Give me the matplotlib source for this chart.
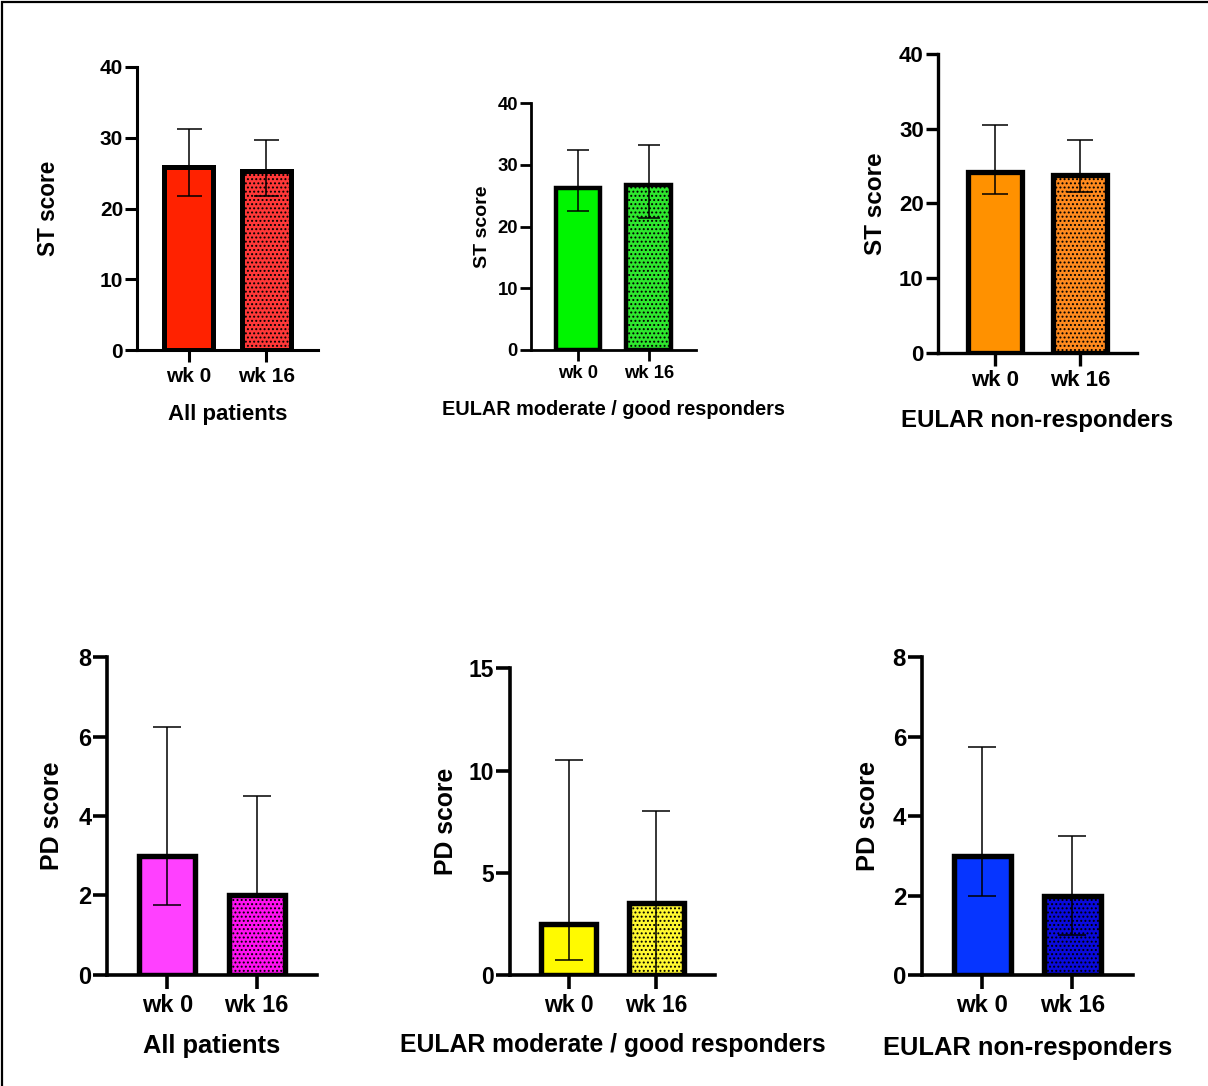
import matplotlib
matplotlib.use("Agg")
import matplotlib.pyplot as plt
from matplotlib.patches import Rectangle

plt.rcParams['font.family'] = ['Liberation Sans', 'DejaVu Sans']
plt.rcParams['font.weight'] = 'bold'
plt.rcParams['hatch.linewidth'] = 0.9

timepoints = ["wk 0", "wk 16"]

# ST score: median with lower / upper quartile
st_all_mid = [25.8, 25.3]
st_all_lo = [21.8, 21.8]
st_all_hi = [31.2, 29.7]

st_resp_mid = [26.3, 26.7]
st_resp_lo = [22.5, 21.4]
st_resp_hi = [32.5, 33.3]

st_nonresp_mid = [24.2, 23.8]
st_nonresp_lo = [21.2, 21.5]
st_nonresp_hi = [30.5, 28.5]

# PD score: median with lower / upper quartile
pd_all_mid = [3.0, 2.0]
pd_all_lo = [1.75, 2.0]
pd_all_hi = [6.25, 4.5]

pd_resp_mid = [2.5, 3.5]
pd_resp_lo = [0.75, 0.0]
pd_resp_hi = [10.5, 8.0]

pd_nonresp_mid = [3.0, 2.0]
pd_nonresp_lo = [2.0, 1.0]
pd_nonresp_hi = [5.75, 3.5]

group_titles = ["All patients", "EULAR moderate / good responders", "EULAR non-responders"]
st_ticks = [0, 10, 20, 30, 40]
pd_ticks_all = [0, 2, 4, 6, 8]
pd_ticks_resp = [0, 5, 10, 15]

W, H = 1208, 1086
fig = plt.figure(figsize=(W / 100, H / 100), dpi=100)

# layout per panel: axes box in pixels (left, top, right, bottom), text sizes, label positions
panels = [
    dict(mid=st_all_mid, lo=st_all_lo, hi=st_all_hi, ylabel="ST score", title=group_titles[0],
         ticks=st_ticks, colors=["#FF2200", "#FF3838"],
         box=(137, 67, 318, 350), tfs=15.0, lfs=16.3, xfs=16.0,
         ylab_x=55, xlab_y=420, spine=2.2, edge=3.6, tlen=8.5, s=0.9),
    dict(mid=st_resp_mid, lo=st_resp_lo, hi=st_resp_hi, ylabel="ST score", title=group_titles[1],
         ticks=st_ticks, colors=["#00F500", "#2EE82E"],
         box=(530.7, 103.3, 696, 350), tfs=13.3, lfs=14.0, xfs=14.3,
         ylab_x=486.7, xlab_y=415, spine=2.0, edge=3.2, tlen=7.7, s=0.8),
    dict(mid=st_nonresp_mid, lo=st_nonresp_lo, hi=st_nonresp_hi, ylabel="ST score", title=group_titles[2],
         ticks=st_ticks, colors=["#FF9100", "#FF8A1E"],
         box=(938.3, 54, 1136.7, 352.7), tfs=16.0, lfs=17.5, xfs=17.3,
         ylab_x=881.7, xlab_y=426.7, spine=2.4, edge=3.8, tlen=9.0, s=0.95),
    dict(mid=pd_all_mid, lo=pd_all_lo, hi=pd_all_hi, ylabel="PD score", title=group_titles[0],
         ticks=pd_ticks_all, colors=["#FF40FF", "#FF10F0"],
         box=(107.3, 657.3, 316.7, 974.7), tfs=17.0, lfs=18.0, xfs=18.4,
         ylab_x=59.3, xlab_y=1053, spine=2.6, edge=3.9, tlen=9.8, s=1.0),
    dict(mid=pd_resp_mid, lo=pd_resp_lo, hi=pd_resp_hi, ylabel="PD score", title=group_titles[1],
         ticks=pd_ticks_resp, colors=["#FFFA00", "#FFF830"],
         box=(510, 668.3, 715, 975), tfs=16.5, lfs=17.8, xfs=17.8,
         ylab_x=453.3, xlab_y=1051.7, spine=2.6, edge=3.9, tlen=9.8, s=1.0),
    dict(mid=pd_nonresp_mid, lo=pd_nonresp_lo, hi=pd_nonresp_hi, ylabel="PD score", title=group_titles[2],
         ticks=pd_ticks_all, colors=["#0635FF", "#0A0ADD"],
         box=(921.7, 657.3, 1132.7, 975), tfs=17.3, lfs=18.3, xfs=18.4,
         ylab_x=875, xlab_y=1055, spine=2.6, edge=3.9, tlen=9.8, s=1.0),
]

for p in panels:
    l, t, r, b = p["box"]
    ax = fig.add_axes([l / W, 1 - b / H, (r - l) / W, (b - t) / H])
    x = list(range(len(timepoints)))
    hatches = [None, "...."]
    for i in x:
        ax.bar(i, p["mid"][i], width=0.63, color=p["colors"][i], edgecolor="black",
               linewidth=p["edge"], hatch=hatches[i], zorder=2)
    lower = [m - lo for m, lo in zip(p["mid"], p["lo"])]
    upper = [hi - m for m, hi in zip(p["mid"], p["hi"])]
    ax.errorbar(x, p["mid"], yerr=[lower, upper], fmt="none", ecolor="black",
                elinewidth=1.1, capsize=10 * p["s"], capthick=1.1, zorder=3)
    ax.set_xlim(-0.67, 1.67)
    ax.set_ylim(p["ticks"][0], p["ticks"][-1])
    ax.set_yticks(p["ticks"])
    ax.set_xticks(x)
    ax.set_xticklabels(timepoints)
    for side in ("top", "right"):
        ax.spines[side].set_visible(False)
    for side in ("left", "bottom"):
        ax.spines[side].set_linewidth(p["spine"])
        ax.spines[side].set_capstyle("projecting")
    ax.tick_params(axis="both", direction="out", length=p["tlen"], width=p["spine"],
                   labelsize=p["tfs"], colors="black")
    ax.tick_params(axis="y", pad=1.5)
    ax.tick_params(axis="x", pad=4.0 * p["s"])
    ax.set_ylabel(p["ylabel"], fontsize=p["lfs"], fontweight="bold", va="baseline")
    ax.yaxis.set_label_coords((p["ylab_x"] - l) / (r - l), 0.5)
    ax.set_xlabel(p["title"], fontsize=p["xfs"], fontweight="bold", va="baseline")
    ax.xaxis.set_label_coords(0.5, -(p["xlab_y"] - b) / (b - t))
    ax.set_facecolor("none")

# outer frame along the top and left edges
fig.patches.append(Rectangle((2 / W, -0.05), 1.2, 1 - 2 / H + 0.05, transform=fig.transFigure,
                             fill=False, edgecolor="black", linewidth=1.6, zorder=10))

fig.savefig("out.png", dpi=100, facecolor="white")
